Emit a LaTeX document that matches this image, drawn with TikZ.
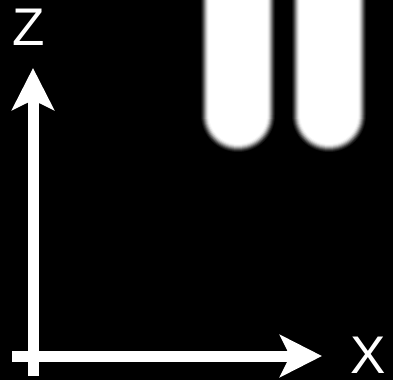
\documentclass[tikz,border=0pt]{standalone}
\usepackage{fontspec}
\setmainfont{Liberation Sans}
\usetikzlibrary{arrows.meta}
\tikzset{
  axis/.style={draw=white, line width=11pt, line cap=butt,
    -{Stealth[length=42pt, width=42pt, inset=10pt]}},
  axlabel/.style={text=white, font=\fontsize{53}{53}\selectfont, inner sep=0pt}
}
\begin{document}
\begin{tikzpicture}[x=1pt,y=-1pt]
  \fill[black] (0,0) rectangle (393,380);
  \useasboundingbox (0,0) rectangle (393,380);
  % blurred rounded bars
  \foreach \xa/\xb in {205/271, 296/362}{
    \foreach \d/\p in {4/8, 3/18, 2/32, 1/48, 0/64, -1/78, -2/90, -3/97, -4/100}{
      \pgfmathsetmacro{\r}{33+\d}
      \pgfmathsetmacro{\xl}{\xa-\d}
      \pgfmathsetmacro{\xr}{\xb+\d}
      \fill[white!\p!black] (\xl,-10) -- (\xl,115) arc[start angle=180, end angle=360, x radius=\r, y radius=-\r] -- (\xr,-10) -- cycle;
    }
  }
  \coordinate (zb) at (33,376);
  \coordinate (zt) at (33,68);
  \coordinate (xl) at (12,356);
  \coordinate (xr) at (322,356);
  \draw[axis] (zb) -- (zt);
  \draw[axis] (xl) -- (xr);
  \node[axlabel] (zlab) at (29,27) {Z};
  \node[axlabel] (xlab) at (368,355) {X};
\end{tikzpicture}
\end{document}
